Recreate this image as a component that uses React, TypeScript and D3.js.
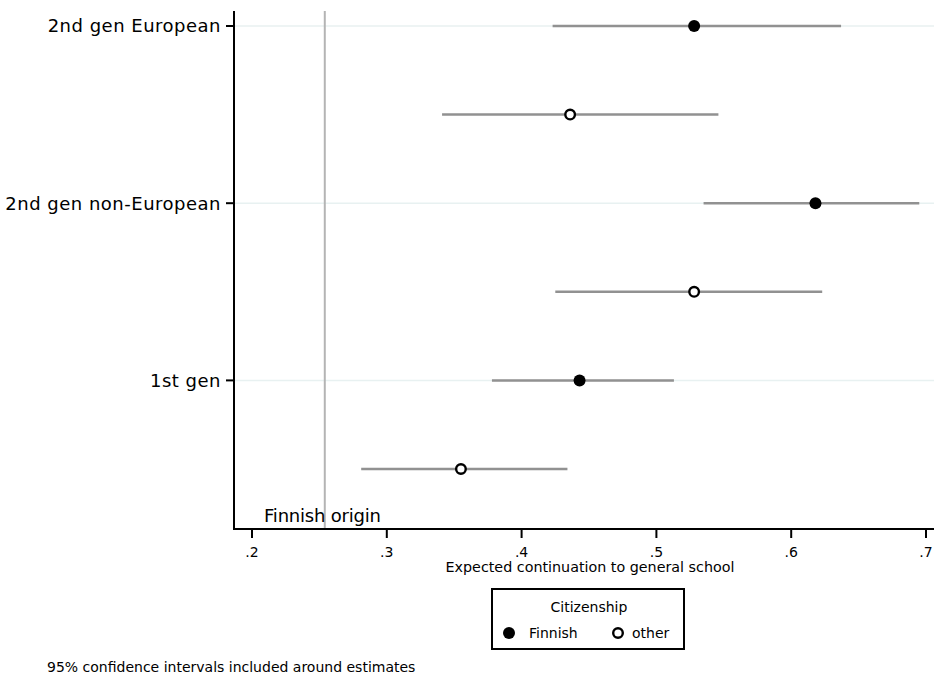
import React from 'react';
import * as d3 from 'd3';

// estimates, top to bottom
const rowLabels = ['2nd gen European', '', '2nd gen non-European', '', '1st gen', ''];
const citizenship = ['Finnish', 'other', 'Finnish', 'other', 'Finnish', 'other'];
const estimates = [0.528, 0.436, 0.618, 0.528, 0.443, 0.355];
const ciLow = [0.423, 0.341, 0.535, 0.425, 0.378, 0.281];
const ciHigh = [0.637, 0.546, 0.695, 0.623, 0.513, 0.434];
const xTicks = [0.2, 0.3, 0.4, 0.5, 0.6, 0.7];
const finnishOrigin = 0.254;

const font = '"DejaVu Sans", sans-serif';

export default function App() {
  const W = 934;
  const H = 677;
  const left = 234;
  const right = 934;
  const top = 11;
  const bottom = 529;

  const x = d3.scaleLinear().domain([0.2, 0.7]).range([252, 926]);
  const y = d3.scaleLinear().domain([0, 5]).range([26, 469]);
  const fmt = (v: number) => d3.format('.1f')(v).replace(/^0/, '');

  return (
    <svg width={W} height={H} style={{ position: 'absolute', left: 0, top: 0, background: '#fff' }}>
      {/* gridlines at labelled rows */}
      {rowLabels.map((l, i) =>
        l ? (
          <line key={'g' + i} x1={left} x2={right} y1={y(i)} y2={y(i)} stroke="#e8f1f1" strokeWidth={1.5} />
        ) : null
      )}

      {/* reference line */}
      <line x1={x(finnishOrigin)} x2={x(finnishOrigin)} y1={top} y2={bottom} stroke="#b4b4b4" strokeWidth={2} />
      <text x={264} y={522} fontFamily={font} fontSize={18} letterSpacing={-0.2} fill="#000">Finnish origin</text>

      {/* confidence intervals */}
      {estimates.map((e, i) => (
        <line key={'ci' + i} x1={x(ciLow[i])} x2={x(ciHigh[i])} y1={y(i)} y2={y(i)} stroke="#919191" strokeWidth={2.5} />
      ))}
      {/* point estimates */}
      {estimates.map((e, i) =>
        citizenship[i] === 'Finnish' ? (
          <circle key={'p' + i} cx={x(e)} cy={y(i)} r={6} fill="#000" />
        ) : (
          <circle key={'p' + i} cx={x(e)} cy={y(i)} r={4.8} fill="#fff" stroke="#000" strokeWidth={2.4} />
        )
      )}

      {/* axes */}
      <line x1={left} x2={left} y1={top} y2={bottom + 1} stroke="#000" strokeWidth={2} />
      <line x1={left - 1} x2={right} y1={bottom} y2={bottom} stroke="#000" strokeWidth={2} />
      {rowLabels.map((l, i) =>
        l ? (
          <g key={'yl' + i}>
            <line x1={left - 8} x2={left} y1={y(i)} y2={y(i)} stroke="#000" strokeWidth={2} />
            <text x={221} y={y(i)} dy="0.35em" textAnchor="end" fontFamily={font} fontSize={18} letterSpacing={0.5}>{l}</text>
          </g>
        ) : null
      )}
      {xTicks.map((t) => (
        <g key={'xt' + t}>
          <line x1={x(t)} x2={x(t)} y1={bottom} y2={bottom + 9} stroke="#000" strokeWidth={2} />
          <text x={x(t)} y={557} textAnchor="middle" fontFamily={font} fontSize={14}>{fmt(t)}</text>
        </g>
      ))}
      <text x={590} y={572} textAnchor="middle" fontFamily={font} fontSize={14.3}>Expected continuation to general school</text>

      {/* legend */}
      <rect x={492} y={589} width={192} height={60} fill="#fff" stroke="#000" strokeWidth={2} />
      <text x={589} y={612} textAnchor="middle" fontFamily={font} fontSize={14}>Citizenship</text>
      <circle cx={509} cy={633} r={6} fill="#000" />
      <text x={529} y={638} fontFamily={font} fontSize={14}>Finnish</text>
      <circle cx={618} cy={633} r={4.8} fill="#fff" stroke="#000" strokeWidth={2.4} />
      <text x={632} y={638} fontFamily={font} fontSize={14}>other</text>

      <text x={47} y={672} fontFamily={font} fontSize={14}>95% confidence intervals included around estimates</text>
    </svg>
  );
}
